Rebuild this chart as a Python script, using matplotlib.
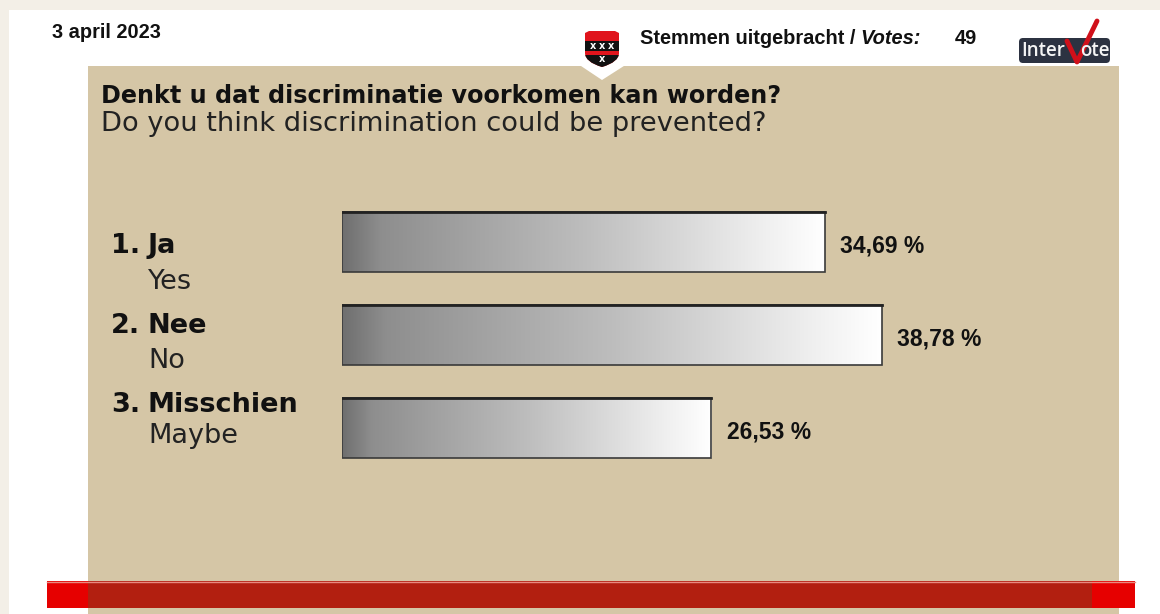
import numpy as np
import matplotlib
matplotlib.use("Agg")
import matplotlib.pyplot as plt
from matplotlib.patches import Rectangle, Polygon, FancyBboxPatch, PathPatch
from matplotlib.path import Path
from matplotlib.colors import LinearSegmentedColormap

# ---- data ----
date_text = "3 april 2023"
votes_label = "Stemmen uitgebracht / "
votes_label_it = "Votes:"
votes = 49
title_nl = "Denkt u dat discriminatie voorkomen kan worden?"
title_en = "Do you think discrimination could be prevented?"
numbers = ["1.", "2.", "3."]
labels_nl = ["Ja", "Nee", "Misschien"]
labels_en = ["Yes", "No", "Maybe"]
values = [34.69, 38.78, 26.53]
value_labels = ["34,69 %", "38,78 %", "26,53 %"]

W, H = 1160, 614
fig = plt.figure(figsize=(W / 100, H / 100), dpi=100)
fig.patch.set_facecolor("#f3efe7")

bg = fig.add_axes([0, 0, 1, 1])
bg.set_xlim(0, W)
bg.set_ylim(H, 0)
bg.axis("off")

# white panel
bg.add_patch(Rectangle((9, 10), W - 9, H - 10, facecolor="white", edgecolor="none"))
# tan panel
tan = "#d5c6a6"
bg.add_patch(Rectangle((88, 66), 1119 - 88, H - 66, facecolor=tan, edgecolor="none"))
# notch under shield
bg.add_patch(Polygon([(578, 64), (627, 64), (602, 80)], closed=True,
                     facecolor="white", edgecolor="none"))
# red band
bg.add_patch(Rectangle((47, 581), 1135 - 47, 27, facecolor="#e60000", edgecolor="none"))
bg.add_patch(Rectangle((88, 581), 1092 - 88, 27, facecolor="#b21f10", edgecolor="none"))
bg.plot([47, 1135], [581.5, 581.5], color="#e88a80", lw=1)

# shield
sx0, sx1, sy0, sy1 = 585, 619, 31, 67
verts = [(sx0, sy0 + 2), (sx0 + 4, sy0), (sx1 - 4, sy0), (sx1, sy0 + 2),
         (sx1, sy0 + 22), (sx1, sy1 - 5), (602, sy1), (sx0, sy1 - 5), (sx0, sy0 + 22),
         (sx0, sy0 + 2)]
codes = [Path.MOVETO, Path.LINETO, Path.LINETO, Path.LINETO, Path.LINETO,
         Path.CURVE3, Path.CURVE3, Path.CURVE3, Path.CURVE3, Path.CLOSEPOLY]
spath = Path(verts, codes)
clip = PathPatch(spath, facecolor="#e0141c", edgecolor="none")
bg.add_patch(clip)
for (y0, y1, c) in [(41, 51, "#111111"), (55, 68, "#111111")]:
    r = Rectangle((sx0, y0), sx1 - sx0, y1 - y0, facecolor=c, edgecolor="none")
    bg.add_patch(r)
    r.set_clip_path(clip)
for xx in [593, 602, 611]:
    bg.text(xx, 46, "x", color="white", fontsize=7, fontweight="bold",
            ha="center", va="center", family="DejaVu Sans")
bg.text(602, 59, "x", color="white", fontsize=7, fontweight="bold",
        ha="center", va="center", family="DejaVu Sans")

# header texts
hdr_fs = 14.4
bg.text(52, 33, date_text, fontsize=hdr_fs, fontweight="bold", family="Liberation Sans",
        ha="left", va="center", color="#111111")
t1 = bg.text(640, 38, votes_label, fontsize=hdr_fs, fontweight="bold",
             family="Liberation Sans", ha="left", va="center", color="#111111")
fig.canvas.draw()
bb = t1.get_window_extent()
bg.annotate(votes_label_it, xy=(bb.x1 - 1, H - 38), xycoords="figure pixels",
            fontsize=hdr_fs, fontweight="bold", fontstyle="italic",
            family="Liberation Sans", ha="left", va="center", color="#111111")
bg.text(955, 38, str(votes), fontsize=hdr_fs, fontweight="bold", family="Liberation Sans",
        ha="left", va="center", color="#111111")

# InterVote logo
bg.add_patch(FancyBboxPatch((1019, 38), 91, 25, boxstyle="round,pad=0,rounding_size=4",
                            facecolor="#2c3241", edgecolor="none"))
bg.text(1021, 51.5, "Inter", fontsize=13.5, color="#f4f4f4", family="Open Sans",
        fontweight="semibold", ha="left", va="center")
bg.text(1110, 51.5, "ote", fontsize=13.5, color="#f4f4f4", family="Open Sans",
        fontweight="semibold", ha="right", va="center")
bg.plot([1067, 1077, 1097], [41, 62, 21], color="#d0101a", lw=3.5,
        solid_capstyle="round", solid_joinstyle="round")

# title
bg.text(101, 96, title_nl, fontsize=17.2, fontweight="bold", family="DejaVu Sans",
        ha="left", va="center", color="#111111")
bg.text(101, 124, title_en, fontsize=19.6, family="DejaVu Sans",
        ha="left", va="center", color="#222222")

# category labels (pixel layout)
nl_base = [253, 333, 412]
en_base = [289, 368, 443]
for i in range(len(values)):
    bg.text(111, nl_base[i], numbers[i], fontsize=19.5, fontweight="bold",
            family="DejaVu Sans", ha="left", va="baseline", color="#111111")
    bg.text(148, nl_base[i], labels_nl[i], fontsize=19.5, fontweight="bold",
            family="DejaVu Sans", ha="left", va="baseline", color="#111111")
    bg.text(148, en_base[i], labels_en[i], fontsize=19.5, family="DejaVu Sans",
            ha="left", va="baseline", color="#222222")

# bars axes: x in percent, 0 at px 342, 13.92 px per percent
px_per = 13.92
x0_px = 342
xmax = 50
ax_w = xmax * px_per
spacing = 93
yc0 = 242
ax_top = yc0 - spacing / 2
ax_h = spacing * len(values)
ax = fig.add_axes([x0_px / W, 1 - (ax_top + ax_h) / H, ax_w / W, ax_h / H])
ax.set_xlim(0, xmax)
ax.set_ylim(len(values) - 0.5, -0.5)
ax.axis("off")
ax.patch.set_alpha(0)

cmap = LinearSegmentedColormap.from_list(
    "g", [(0, "#6f6f6f"), (0.08, "#8e8e8e"), (0.5, "#bdbdbd"), (0.88, "#f0f0f0"), (1.0, "#ffffff")])
grad = np.linspace(0, 1, 256).reshape(1, -1)
bh = 0.65
for i, v in enumerate(values):
    im = ax.imshow(grad, cmap=cmap, aspect="auto",
                   extent=(0, v, i + bh / 2, i - bh / 2), interpolation="bicubic")
    rect = Rectangle((0, i - bh / 2), v, bh, facecolor="none", edgecolor="#3a3a3a", lw=1.2)
    ax.add_patch(rect)
    im.set_clip_path(rect)
    ax.plot([0, v], [i - bh / 2, i - bh / 2], color="#222222", lw=2)
    ax.text(v + 1.1, i + 0.04, value_labels[i], fontsize=16.5, fontweight="bold",
            family="Liberation Sans", ha="left", va="center", color="#111111")

fig.savefig("out.png", dpi=100, facecolor=fig.get_facecolor())
